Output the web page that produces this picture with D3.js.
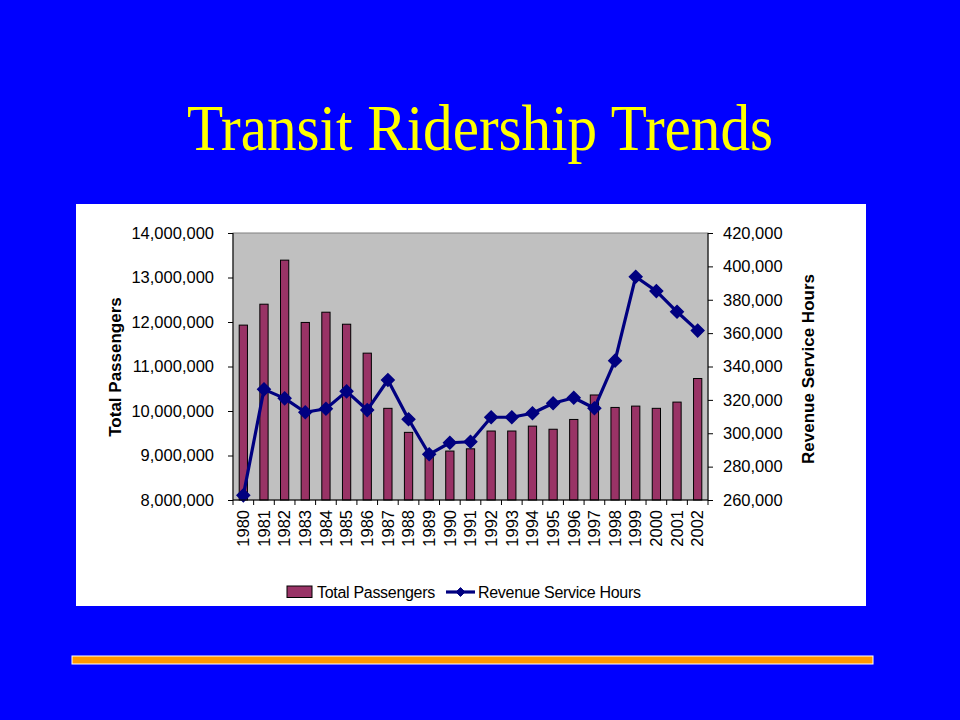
<!DOCTYPE html>
<html>
<head>
<meta charset="utf-8">
<script src="https://cdn.jsdelivr.net/npm/d3@7"></script>
<style>
  html, body { margin: 0; padding: 0; background: #0000FF; }
  svg { display: block; }
</style>
</head>
<body>
<svg id="chart" width="960" height="720"></svg>
<script>
const years = ["1980","1981","1982","1983","1984","1985","1986","1987","1988","1989","1990","1991","1992","1993","1994","1995","1996","1997","1998","1999","2000","2001","2002"];
const totalPassengers = [11930000,12400000,13390000,11990000,12220000,11950000,11300000,10060000,9520000,9000000,9100000,9150000,9550000,9550000,9660000,9590000,9810000,10360000,10080000,10110000,10060000,10200000,10730000];
const revenueServiceHours = [262800,326300,320900,312600,314700,325100,313900,331900,308400,287400,294300,294900,309600,309600,312000,318000,321300,315000,343500,393800,385200,372800,361500];
const leftTicks = [8000000,9000000,10000000,11000000,12000000,13000000,14000000];
const rightTicks = [260000,280000,300000,320000,340000,360000,380000,400000,420000];
const titleText = "Transit Ridership Trends";
const seriesNames = ["Total Passengers","Revenue Service Hours"];

const svg = d3.select("#chart");
const font = "'Liberation Sans', Arial, sans-serif";

svg.append("rect").attr("x",0).attr("y",0).attr("width",960).attr("height",720).attr("fill","#0000FF");

svg.append("text")
  .attr("x", 480).attr("y", 150)
  .attr("text-anchor","middle")
  .attr("font-family","'Liberation Serif', 'Times New Roman', serif")
  .attr("font-size", 65)
  .attr("textLength", 586)
  .attr("lengthAdjust","spacingAndGlyphs")
  .attr("fill","#FFFF00")
  .text(titleText);

svg.append("rect").attr("x",76).attr("y",204).attr("width",790).attr("height",402).attr("fill","#FFFFFF");

const plot = {left:233, right:708, top:233, bottom:500};

const x = d3.scaleBand().domain(years).range([plot.left, plot.right]).paddingInner(0.6).paddingOuter(0.3);
const xb = d3.scaleBand().domain(years).range([plot.left, plot.right]).padding(0);
const yL = d3.scaleLinear().domain([8000000,14000000]).range([plot.bottom, plot.top]);
const yR = d3.scaleLinear().domain([260000,420000]).range([plot.bottom, plot.top]);

svg.append("rect").attr("x",plot.left).attr("y",plot.top)
  .attr("width",plot.right-plot.left).attr("height",plot.bottom-plot.top)
  .attr("fill","#C0C0C0").attr("stroke","#808080").attr("stroke-width",1);

svg.append("g").selectAll("rect").data(years).join("rect")
  .attr("x", d => x(d))
  .attr("y", (d,i) => yL(totalPassengers[i]))
  .attr("width", x.bandwidth())
  .attr("height", (d,i) => yL(8000000) - yL(totalPassengers[i]))
  .attr("fill","#993366").attr("stroke","#000000").attr("stroke-width",1);

const cx = d => xb(d) + xb.bandwidth()/2;
const line = d3.line().x((d,i) => cx(years[i])).y(d => yR(d));
svg.append("path").datum(revenueServiceHours)
  .attr("d", line).attr("fill","none").attr("stroke","#000080").attr("stroke-width",3.2).attr("stroke-linejoin","round");

const diamond = d3.symbol().type(d3.symbolDiamond2).size(100);
svg.append("g").selectAll("path").data(revenueServiceHours).join("path")
  .attr("transform", (d,i) => `translate(${cx(years[i])},${yR(d)})`)
  .attr("d", diamond)
  .attr("fill","#000080").attr("stroke","#000080").attr("stroke-width",1.5);

const axL = svg.append("g").attr("transform",`translate(${plot.left},0)`)
  .call(d3.axisLeft(yL).tickValues(leftTicks).tickSize(5).tickPadding(14).tickFormat(d3.format(",")));
const axR = svg.append("g").attr("transform",`translate(${plot.right},0)`)
  .call(d3.axisRight(yR).tickValues(rightTicks).tickSize(5).tickPadding(10).tickFormat(d3.format(",")));
const axB = svg.append("g").attr("transform",`translate(0,${plot.bottom})`)
  .call(d3.axisBottom(xb).tickSize(0).tickPadding(0));
axB.selectAll(".tick text")
  .attr("transform","translate(0,10) rotate(-90)")
  .attr("text-anchor","end")
  .attr("dy","0.35em")
  .attr("y",0).attr("x",0);
const boundaries = years.map(d => xb(d)).concat([plot.right]);
svg.append("g").selectAll("line").data(boundaries).join("line")
  .attr("x1", d => d).attr("x2", d => d)
  .attr("y1", plot.bottom).attr("y2", plot.bottom+5)
  .attr("stroke","#000").attr("stroke-width",1);

[axL, axR, axB].forEach(a => {
  a.selectAll("text").attr("font-family", font).attr("font-size", 16.5).attr("fill","#000");
  a.selectAll("line").attr("stroke","#000");
  a.select(".domain").attr("stroke","#000");
});
axL.select(".domain").attr("d", `M0,${plot.top}V${plot.bottom}`);
axR.select(".domain").attr("d", `M0,${plot.top}V${plot.bottom}`);
axB.select(".domain").attr("d", `M${plot.left},0H${plot.right}`);

svg.append("text")
  .attr("transform", "translate(121,367) rotate(-90)")
  .attr("text-anchor","middle")
  .attr("font-family", font).attr("font-weight","bold").attr("font-size",17)
  .attr("fill","#000").text("Total Passengers");
svg.append("text")
  .attr("transform", "translate(814,369) rotate(-90)")
  .attr("text-anchor","middle")
  .attr("font-family", font).attr("font-weight","bold").attr("font-size",17)
  .attr("fill","#000").text("Revenue Service Hours");

const lg = svg.append("g");
lg.append("rect").attr("x",287).attr("y",586).attr("width",25).attr("height",11.5)
  .attr("fill","#993366").attr("stroke","#000").attr("stroke-width",1);
lg.append("text").attr("x",317).attr("y",598)
  .attr("font-family", font).attr("font-size",16).attr("letter-spacing","-0.3")
  .attr("fill","#000").text(seriesNames[0]);
lg.append("line").attr("x1",446).attr("x2",475).attr("y1",592).attr("y2",592)
  .attr("stroke","#000080").attr("stroke-width",3.2);
lg.append("path").attr("transform","translate(460.5,592)").attr("d", d3.symbol().type(d3.symbolDiamond2).size(50))
  .attr("fill","#000080").attr("stroke","#000080");
lg.append("text").attr("x",478).attr("y",598)
  .attr("font-family", font).attr("font-size",16).attr("letter-spacing","-0.3")
  .attr("fill","#000").text(seriesNames[1]);

svg.append("rect").attr("x",72).attr("y",656).attr("width",801).attr("height",8)
  .attr("fill","#FF9900").attr("stroke","#FFFFFF").attr("stroke-width",1);
</script>
</body>
</html>
